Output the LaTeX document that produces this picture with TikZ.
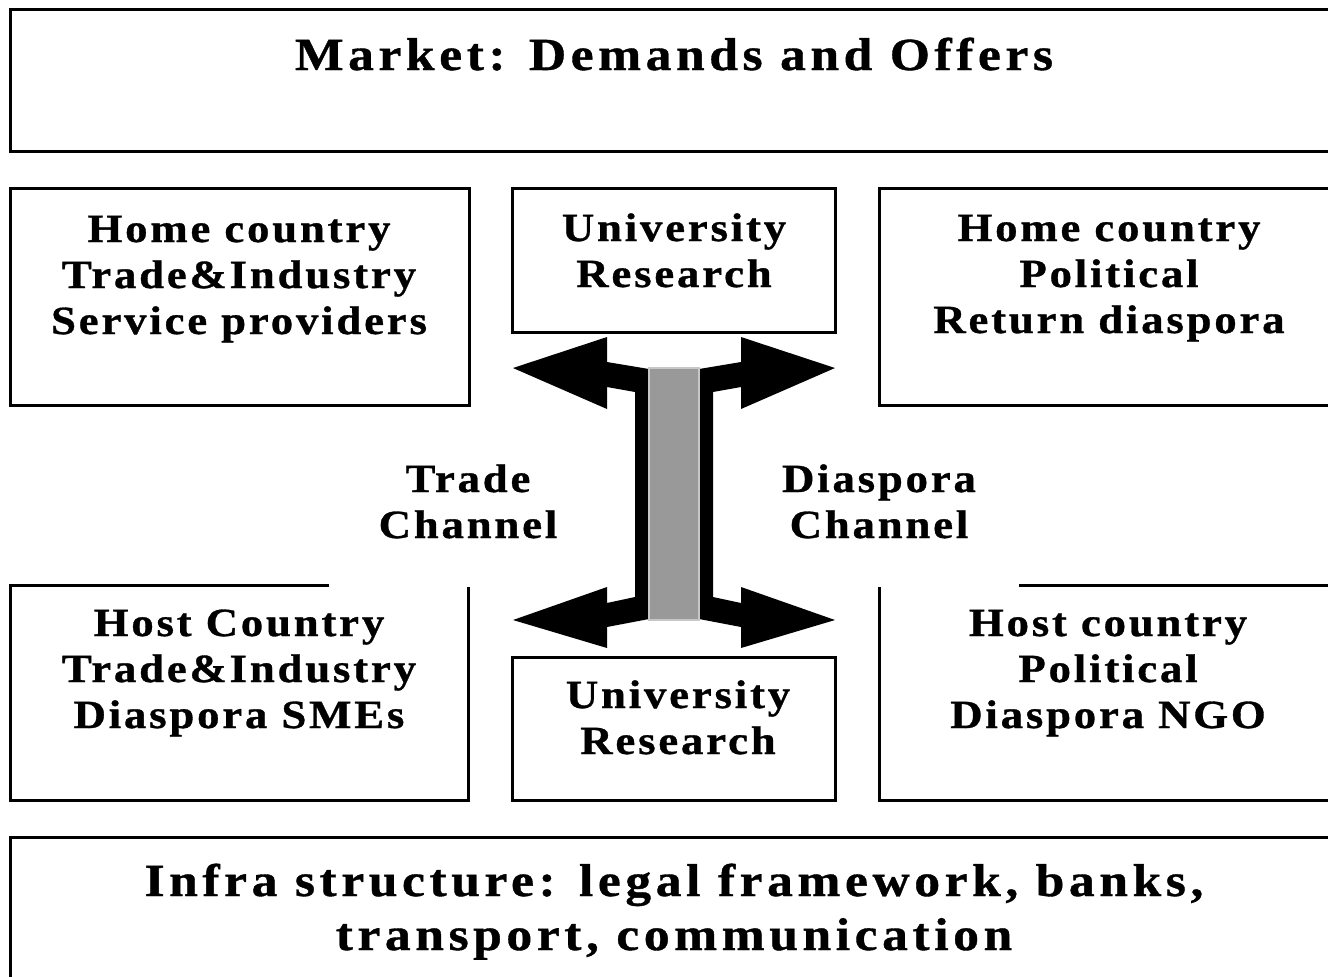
\documentclass[tikz,border=0pt]{standalone}
\usepackage{fontspec}
\setmainfont{Liberation Serif}[LetterSpace=7, FakeStretch=1.12, BoldFeatures={FakeBold=0.8}]
\begin{document}
\begin{tikzpicture}[x=0.5pt,y=-0.5pt,
  box/.style={line width=1.5pt},
  big/.style={font=\fontsize{23}{27}\selectfont\bfseries\addfontfeatures{LetterSpace=10}, align=center, inner sep=0, anchor=base},
  small/.style={font=\fontsize{20}{23}\selectfont\bfseries, align=center, inner sep=0, anchor=base},
  arrowshape/.style={fill=black},
  bar/.style={fill=black!40, draw=black!22, line width=1pt}]
\clip (0,0) rectangle (1328,976);
\fill[white] (0,0) rectangle (1328,976);
% boxes
\draw[box] (10,9) rectangle (1338,151);
\draw[box] (10,188) rectangle (469,405);
\draw[box] (512,188) rectangle (835,332);
\draw[box] (879,188) rectangle (1338,405);
\draw[box] (329,585) -| (10,800) -| (468,587);
\draw[box] (1019,585) -| (1338,800) -| (879,587);
\draw[box] (512,657) rectangle (835,800);
\draw[box] (10,837) rectangle (1338,990);
% texts (base anchor = baseline of the last line)
\node[big] (market) at (674,70) {Market: Demands and Offers};
\node[small] (hometrade) at (239,334) {Home country\\Trade\&Industry\\Service providers};
\node[small] (unitop) at (674,287) {University\\Research};
\node[small] (homepol) at (1109,333) {Home country\\Political\\Return diaspora};
\node[small] (trade) at (468,538) {Trade\\Channel};
\node[small] (diaspora) at (879,538) {Diaspora\\Channel};
\node[small] (hosttrade) at (239,728) {Host Country\\Trade\&Industry\\Diaspora SMEs};
\node[small] (unibot) at (678,754) {University\\Research};
\node[small] (hostpol) at (1108,728) {Host country\\Political\\Diaspora NGO};
\node[big] (infra) at (674,950) {Infra structure: legal framework, banks,\\transport, communication};
% central double arrows
\fill[arrowshape] (649,369) -- (607,362) -- (607,337) -- (513,368) -- (607,409) -- (607,387)
  -- (635,392) -- (635,597) -- (607,603) -- (607,587) -- (513,620) -- (607,648)
  -- (607,627) -- (649,619) -- cycle;
\fill[arrowshape] (699,369) -- (741,362) -- (741,337) -- (835,368) -- (741,409) -- (741,387)
  -- (713,392) -- (713,597) -- (741,603) -- (741,587) -- (835,620) -- (741,648)
  -- (741,627) -- (699,619) -- cycle;
\draw[bar] (649,368) rectangle (699,620);
\end{tikzpicture}
\end{document}
